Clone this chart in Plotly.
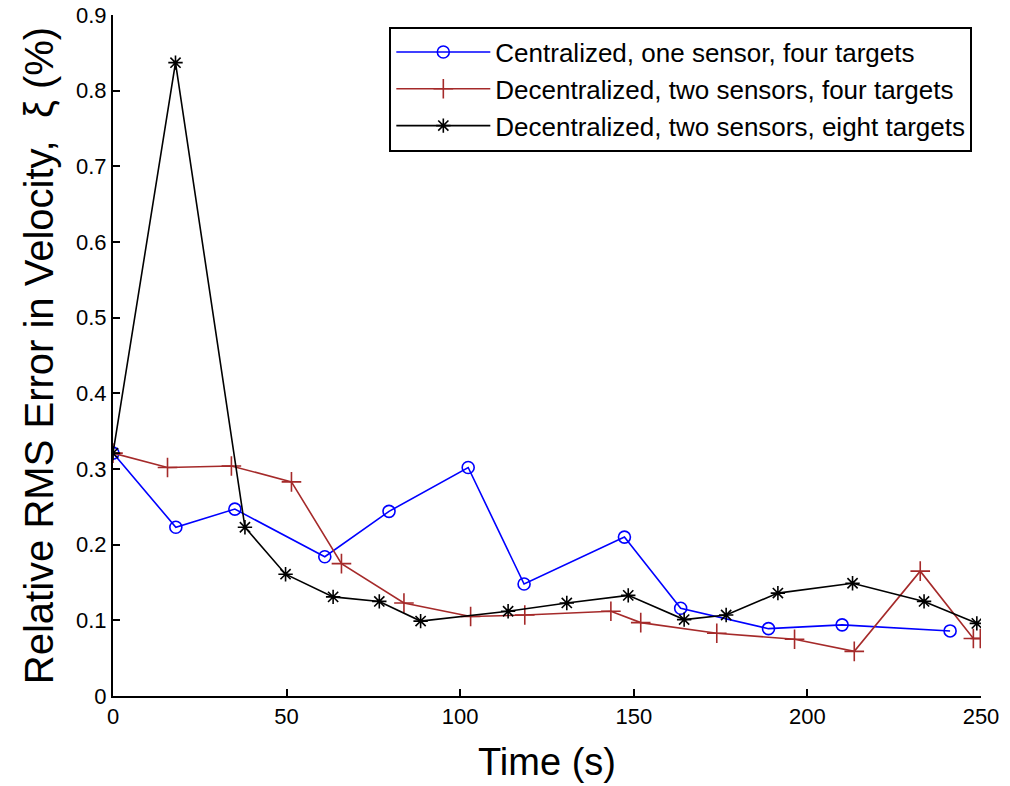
import plotly.graph_objects as go

# Centralized, one sensor, four targets
t_cent = [0, 18.1, 35.1, 61.0, 79.5, 102.3, 118.4, 147.3, 163.5, 188.8, 210.0, 241.1]
e_cent = [0.321, 0.223, 0.247, 0.184, 0.244, 0.302, 0.148, 0.210, 0.116, 0.089, 0.094, 0.086]

# Decentralized, two sensors, four targets
t_dec4 = [0, 15.7, 34.1, 51.4, 65.8, 83.8, 103.0, 118.6, 143.4, 152.0, 173.9, 196.3, 213.5, 232.5, 247.8, 249.8]
e_dec4 = [0.321, 0.302, 0.304, 0.283, 0.175, 0.123, 0.105, 0.107, 0.112, 0.097, 0.083, 0.075, 0.059, 0.165, 0.076, 0.076]

# Decentralized, two sensors, eight targets
t_dec8 = [0, 18.0, 38.0, 49.7, 63.4, 76.7, 88.6, 113.8, 130.7, 148.4, 164.5, 176.6, 191.5, 213.0, 233.6, 248.8]
e_dec8 = [0.321, 0.837, 0.223, 0.161, 0.131, 0.125, 0.099, 0.112, 0.123, 0.133, 0.101, 0.107, 0.136, 0.149, 0.125, 0.096]

x_ticks = [0, 50, 100, 150, 200, 250]
y_ticks = [0, 0.1, 0.2, 0.3, 0.4, 0.5, 0.6, 0.7, 0.8, 0.9]
y_ticktext = ["0", "0.1", "0.2", "0.3", "0.4", "0.5", "0.6", "0.7", "0.8", "0.9"]

FONT = "Liberation Sans, Arial, sans-serif"

fig = go.Figure()
fig.add_trace(go.Scatter(
    x=t_cent, y=e_cent, mode="lines+markers",
    name="Centralized, one sensor, four targets",
    line=dict(color="#0000FF", width=1.6),
    marker=dict(symbol="circle-open", size=12, color="#0000FF", line=dict(width=1.6)),
))
fig.add_trace(go.Scatter(
    x=t_dec4, y=e_dec4, mode="lines+markers",
    name="Decentralized, two sensors, four targets",
    line=dict(color="#A52A2A", width=1.6),
    marker=dict(symbol="cross-thin-open", size=14, color="#A52A2A", line=dict(width=1.6, color="#A52A2A")),
))
fig.add_trace(go.Scatter(
    x=t_dec8, y=e_dec8, mode="lines+markers",
    name="Decentralized, two sensors, eight targets",
    line=dict(color="#000000", width=1.6),
    marker=dict(symbol="asterisk-open", size=12, color="#000000", line=dict(width=1.6, color="#000000")),
))

fig.update_layout(
    width=1010, height=786,
    margin=dict(l=113, r=29, t=15, b=90),
    paper_bgcolor="white", plot_bgcolor="white",
    font=dict(family=FONT, color="black", size=22),
    showlegend=True,
    legend=dict(
        x=0.99, y=0.983, xanchor="right", yanchor="top",
        bordercolor="black", borderwidth=2, bgcolor="white",
        font=dict(family=FONT, size=26, color="black"),
        itemwidth=94, tracegroupgap=0,
    ),
    xaxis=dict(
        range=[0, 250], tickvals=x_ticks, ticks="inside", ticklen=7, tickwidth=2,
        tickcolor="black", showline=True, linecolor="black", linewidth=2,
        showgrid=False, zeroline=False, mirror=False, automargin=False,
        ticklabeloverflow="allow",
        tickfont=dict(family=FONT, size=22),
        title=dict(text="Time (s)", font=dict(family=FONT, size=38), standoff=20),
    ),
    yaxis=dict(
        range=[0, 0.9], tickvals=y_ticks, ticktext=y_ticktext, ticks="inside", ticklen=7, tickwidth=2,
        tickcolor="black", showline=True, linecolor="black", linewidth=2,
        showgrid=False, zeroline=False, mirror=False, automargin=False,
        ticklabeloverflow="allow",
        tickfont=dict(family=FONT, size=22),
        title=dict(text="Relative RMS Error in Velocity,  \u03be (%)", font=dict(family=FONT, size=40), standoff=10),
    ),
)

fig.write_html(
    "out.html",
    config={"displayModeBar": False},
    post_script="document.body.style.margin='0px';document.body.style.overflow='hidden';",
)
